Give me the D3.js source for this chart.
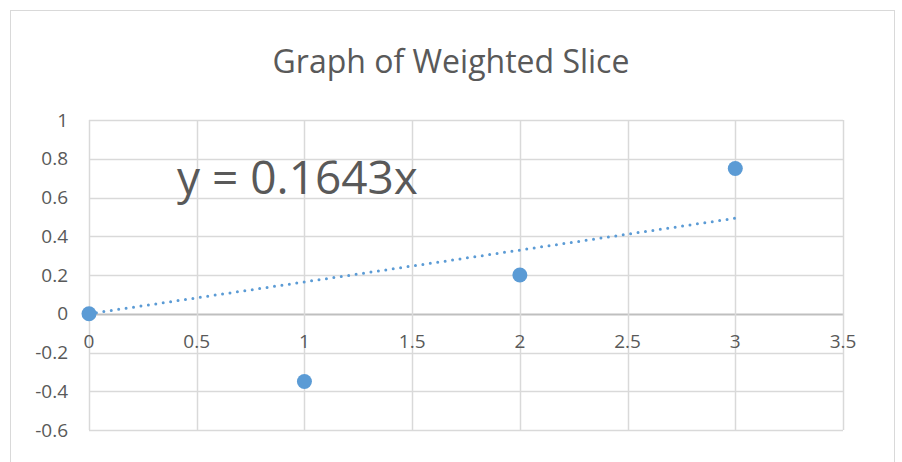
<!DOCTYPE html>
<html><head><meta charset="utf-8">
<script src="https://cdn.jsdelivr.net/npm/d3@7"></script>
<style>body{margin:0;background:#fff}svg{display:block}text{font-family:"Open Sans","Noto Sans",sans-serif;fill:#595959}</style>
</head><body><svg id="c" width="902" height="462"></svg>
<script>
const xValues = [0, 1, 2, 3];
const yValues = [0, -0.35, 0.2, 0.75];
const slope = 0.1643;
const xTicks = [0, 0.5, 1, 1.5, 2, 2.5, 3, 3.5];
const yTicks = [-0.6, -0.4, -0.2, 0, 0.2, 0.4, 0.6, 0.8, 1];
const title = "Graph of Weighted Slice";
const equation = "y = 0.1643x";

const svg = d3.select("#c");
svg.append("rect").attr("x",10.5).attr("y",10.5).attr("width",884).attr("height",470)
  .attr("fill","#fff").attr("stroke","#d9d9d9");
const x = d3.scaleLinear().domain([0,3.5]).range([89,843]);
const y = d3.scaleLinear().domain([-0.6,1]).range([430,120]);
const color = "#5B9BD5";

svg.append("g").selectAll("line").data(yTicks).join("line")
  .attr("x1",x(0)).attr("x2",x(3.5)).attr("y1",d=>Math.round(y(d))+0.5).attr("y2",d=>Math.round(y(d))+0.5)
  .attr("stroke",d=>d===0?"#bfbfbf":"#d9d9d9").attr("stroke-width",d=>d===0?2:1.5);
svg.append("g").selectAll("line").data(xTicks).join("line")
  .attr("y1",y(-0.6)).attr("y2",y(1)).attr("x1",d=>Math.round(x(d))+0.5).attr("x2",d=>Math.round(x(d))+0.5)
  .attr("stroke","#d9d9d9").attr("stroke-width",1.5);

svg.append("g").selectAll("text").data(yTicks).join("text")
  .attr("x",68).attr("y",d=>y(d)).attr("dy","0.35em").attr("text-anchor","end")
  .attr("font-size",19).text(d=>String(d));
svg.append("g").selectAll("text").data(xTicks).join("text")
  .attr("x",d=>x(d)).attr("y",y(0)+34).attr("text-anchor","middle")
  .attr("font-size",19).text(d=>String(d));

svg.append("text").attr("x",451).attr("y",73).attr("text-anchor","middle").attr("font-size",32).text(title);

const xMax = d3.max(xValues);
svg.append("line").attr("x1",x(0)).attr("y1",y(0)).attr("x2",x(xMax)).attr("y2",y(slope*xMax))
  .attr("stroke",color).attr("stroke-width",3).attr("stroke-dasharray","0 7.5").attr("stroke-linecap","round");

svg.append("g").selectAll("circle").data(xValues).join("circle")
  .attr("cx",d=>x(d)).attr("cy",(d,i)=>y(yValues[i])).attr("r",7.5).attr("fill",color);

svg.append("text").attr("x",177).attr("y",194).attr("font-size",46).text(equation);
</script></body></html>
